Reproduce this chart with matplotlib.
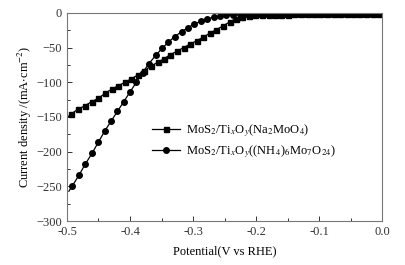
import numpy as np
import matplotlib
matplotlib.use('Agg')
import matplotlib.pyplot as plt
from matplotlib.ticker import MultipleLocator

plt.rcParams['font.family'] = ['Liberation Serif', 'DejaVu Serif']
plt.rcParams['mathtext.fontset'] = 'stix'

# MoS2/TixOy(Na2MoO4) - squares
v_na = [-0.500, -0.494, -0.483, -0.472, -0.461, -0.450, -0.440, -0.429, -0.419, -0.408,
        -0.398, -0.387, -0.377, -0.367, -0.356, -0.346, -0.336, -0.325, -0.315,
        -0.305, -0.294, -0.284, -0.273, -0.263, -0.253, -0.242, -0.232, -0.222,
        -0.211, -0.201, -0.191, -0.180, -0.170, -0.160, -0.149, -0.139, -0.129,
        -0.118, -0.108, -0.098, -0.087, -0.077, -0.067, -0.056, -0.046, -0.036,
        -0.025, -0.015, -0.005]
j_na = [-151, -146, -139, -134, -128, -123, -116, -110, -105, -100,
        -95, -89, -83, -77, -71, -66, -60, -55, -50,
        -45, -40, -35, -29, -24, -19, -13, -8, -5.5,
        -4, -3.2, -2.8, -2.6, -2.4, -2.3, -2.2, -2.1, -2.0,
        -1.9, -1.8, -1.8, -1.7, -1.6, -1.6, -1.5, -1.5, -1.4,
        -1.4, -1.3, -1.3]

# MoS2/TixOy((NH4)6Mo7O24) - circles
v_nh = [-0.497, -0.492, -0.481, -0.471, -0.460, -0.450, -0.440, -0.430, -0.420, -0.410,
        -0.400, -0.390, -0.380, -0.370, -0.359, -0.349, -0.339, -0.329, -0.318,
        -0.308, -0.298, -0.288, -0.278, -0.267, -0.257, -0.247, -0.237, -0.226,
        -0.216, -0.206, -0.195, -0.185, -0.175, -0.164, -0.154, -0.144, -0.134,
        -0.123, -0.113, -0.103, -0.092, -0.082, -0.072, -0.062, -0.051, -0.041,
        -0.031, -0.021, -0.010, 0.0]
j_nh = [-257, -250, -234, -218, -202, -186, -170, -156, -142, -128,
        -114, -100, -86, -73, -61, -51, -42, -34, -27,
        -21, -16, -12, -8.5, -6, -4, -2.8, -2.3, -2.1,
        -2.0, -1.9, -1.9, -1.8, -1.8, -1.7, -1.7, -1.6, -1.6,
        -1.5, -1.5, -1.5, -1.4, -1.4, -1.4, -1.3, -1.3, -1.3,
        -1.2, -1.2, -1.2, -1.2]

label_na = r'MoS$_2$/Ti$_x$O$_y$(Na$_2$MoO$_4$)'
label_nh = r'MoS$_2$/Ti$_x$O$_y$((NH$_4$)$_6$Mo$_7$O$_{24}$)'

fig = plt.figure(figsize=(4.06, 2.65), dpi=100)
ax = fig.add_axes([0.165, 0.166, 0.776, 0.785])

ax.plot(v_na, j_na, color='black', lw=0.9, marker='s', ms=3.6,
        markevery=slice(1, None), label=label_na)
ax.plot(v_nh, j_nh, color='black', lw=0.9, marker='o', ms=4.0,
        markevery=slice(1, None), label=label_nh)

ax.set_xlim(-0.5, 0.0)
ax.set_ylim(-300, 0)
ax.xaxis.set_major_locator(MultipleLocator(0.1))
ax.xaxis.set_minor_locator(MultipleLocator(0.05))
ax.yaxis.set_major_locator(MultipleLocator(50))
ax.yaxis.set_minor_locator(MultipleLocator(25))
ax.xaxis.set_major_formatter(plt.FuncFormatter(lambda v, p: '%.1f' % v if abs(v) > 1e-9 else '0.0'))
ax.tick_params(which='both', direction='in', labelsize=9, colors='#333333')
ax.tick_params(which='major', length=3.5, width=0.7)
ax.tick_params(which='minor', length=2, width=0.7)
for s in ax.spines.values():
    s.set_color('#777777')
    s.set_linewidth(0.8)

ax.set_xlabel('Potential(V vs RHE)', fontsize=9, labelpad=5)
ax.set_ylabel(r'Current density /(mA$\cdot$cm$^{-2}$)', fontsize=9, labelpad=2)

ax.legend(loc='upper left', bbox_to_anchor=(0.235, 0.527), frameon=False, fontsize=9,
          handlelength=2.2, handletextpad=0.5, labelspacing=0.35)

fig.savefig('out.png', dpi=100)
